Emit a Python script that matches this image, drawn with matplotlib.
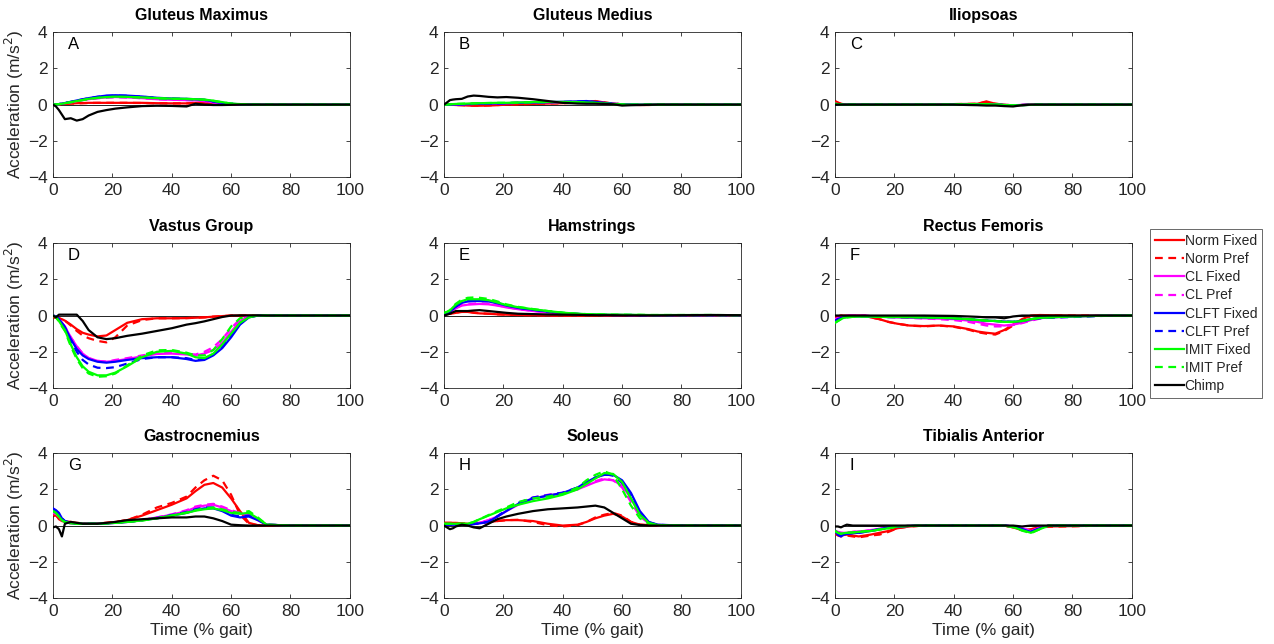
import matplotlib
matplotlib.use('Agg')
import matplotlib.pyplot as plt

plt.rcParams['font.family'] = ['Liberation Sans', 'DejaVu Sans']

# % gait sample points shared by every curve
x = [0, 1, 2, 3, 4, 6, 8, 10, 12, 15, 18, 21, 25, 30, 35, 40, 45, 48, 51, 54, 57, 60, 63, 66, 69, 72, 80, 90, 100]

labels = ['Norm Fixed', 'Norm Pref', 'CL Fixed', 'CL Pref', 'CLFT Fixed', 'CLFT Pref',
          'IMIT Fixed', 'IMIT Pref', 'Chimp']
titles = ['Gluteus Maximus', 'Gluteus Medius', 'Iliopsoas',
          'Vastus Group', 'Hamstrings', 'Rectus Femoris',
          'Gastrocnemius', 'Soleus', 'Tibialis Anterior']
letters = ['A', 'B', 'C', 'D', 'E', 'F', 'G', 'H', 'I']

# each muscle: 9 rows in legend order
glut_max = [
    [0, 0.01, 0.02, 0.03, 0.04, 0.06, 0.08, 0.09, 0.1, 0.1, 0.1, 0.1, 0.1, 0.1, 0.08, 0.07, 0.07, 0.1, 0.12, 0.05, 0.02, 0, 0, 0, 0, 0, 0, 0, 0],
    [0, 0.01, 0.02, 0.03, 0.04, 0.06, 0.07, 0.08, 0.09, 0.1, 0.1, 0.1, 0.1, 0.09, 0.08, 0.07, 0.07, 0.08, 0.1, 0.05, 0.02, 0, 0, 0, 0, 0, 0, 0, 0],
    [0, 0.01, 0.03, 0.05, 0.08, 0.14, 0.2, 0.26, 0.3, 0.36, 0.4, 0.42, 0.4, 0.36, 0.3, 0.27, 0.25, 0.24, 0.2, 0.12, 0.06, 0.03, 0.01, 0, 0, 0, 0, 0, 0],
    [0, 0.01, 0.03, 0.05, 0.08, 0.13, 0.19, 0.25, 0.3, 0.35, 0.39, 0.41, 0.4, 0.35, 0.3, 0.27, 0.25, 0.23, 0.19, 0.12, 0.06, 0.03, 0.01, 0, 0, 0, 0, 0, 0],
    [0, 0.01, 0.03, 0.06, 0.09, 0.16, 0.23, 0.3, 0.36, 0.44, 0.5, 0.52, 0.5, 0.45, 0.38, 0.34, 0.32, 0.3, 0.27, 0.18, 0.1, 0.05, 0.02, 0.01, 0, 0, 0, 0, 0],
    [0, 0.01, 0.03, 0.06, 0.09, 0.15, 0.22, 0.29, 0.35, 0.43, 0.48, 0.5, 0.49, 0.44, 0.37, 0.33, 0.31, 0.29, 0.26, 0.17, 0.1, 0.05, 0.02, 0.01, 0, 0, 0, 0, 0],
    [0, 0.01, 0.03, 0.05, 0.08, 0.14, 0.2, 0.26, 0.32, 0.38, 0.42, 0.44, 0.43, 0.4, 0.36, 0.33, 0.32, 0.3, 0.28, 0.22, 0.14, 0.06, 0.03, 0.01, 0, 0, 0, 0, 0],
    [0, 0.01, 0.03, 0.05, 0.08, 0.13, 0.19, 0.25, 0.31, 0.37, 0.41, 0.43, 0.42, 0.39, 0.35, 0.32, 0.31, 0.29, 0.27, 0.21, 0.13, 0.06, 0.03, 0.01, 0, 0, 0, 0, 0],
    [0, -0.1, -0.3, -0.55, -0.8, -0.75, -0.88, -0.8, -0.6, -0.4, -0.3, -0.22, -0.15, -0.08, -0.06, -0.07, -0.1, 0.05, 0, -0.02, -0.02, -0.01, 0, 0, 0, 0, 0, 0, 0],
]

glut_med = [
    [0, 0, 0, -0.01, -0.02, -0.03, -0.05, -0.06, -0.06, -0.05, -0.03, 0, 0.02, 0.04, 0.06, 0.08, 0.12, 0.15, 0.2, 0.12, 0.06, 0.02, 0, -0.02, -0.02, 0, 0, 0, 0],
    [0, 0, 0, -0.01, -0.02, -0.03, -0.04, -0.05, -0.05, -0.04, -0.02, 0, 0.02, 0.04, 0.06, 0.08, 0.11, 0.14, 0.18, 0.12, 0.06, 0.02, 0, -0.02, -0.01, 0, 0, 0, 0],
    [0, 0, 0, 0.01, 0.01, 0.02, 0.03, 0.04, 0.05, 0.06, 0.07, 0.08, 0.1, 0.12, 0.13, 0.14, 0.15, 0.15, 0.12, 0.08, 0.04, 0.02, 0.01, 0, 0, 0, 0, 0, 0],
    [0, 0, 0, 0.01, 0.01, 0.02, 0.03, 0.04, 0.05, 0.06, 0.07, 0.08, 0.1, 0.11, 0.12, 0.13, 0.14, 0.14, 0.11, 0.07, 0.04, 0.02, 0.01, 0, 0, 0, 0, 0, 0],
    [0, 0, 0, 0.01, 0.01, 0.02, 0.03, 0.04, 0.05, 0.06, 0.07, 0.08, 0.1, 0.12, 0.14, 0.16, 0.18, 0.2, 0.15, 0.1, 0.05, 0.02, 0.01, 0, 0, 0, 0, 0, 0],
    [0, 0, 0, 0.01, 0.01, 0.02, 0.03, 0.04, 0.05, 0.06, 0.07, 0.08, 0.1, 0.12, 0.13, 0.15, 0.17, 0.19, 0.14, 0.09, 0.05, 0.02, 0.01, 0, 0, 0, 0, 0, 0],
    [0, 0.01, 0.02, 0.03, 0.04, 0.05, 0.06, 0.07, 0.08, 0.09, 0.1, 0.1, 0.12, 0.14, 0.15, 0.15, 0.14, 0.12, 0.1, 0.06, 0.03, 0.01, 0, 0, 0, 0, 0, 0, 0],
    [0, 0.01, 0.02, 0.03, 0.04, 0.05, 0.06, 0.07, 0.08, 0.09, 0.1, 0.1, 0.11, 0.13, 0.14, 0.14, 0.13, 0.11, 0.09, 0.06, 0.03, 0.01, 0, 0, 0, 0, 0, 0, 0],
    [0, 0.12, 0.25, 0.28, 0.3, 0.32, 0.45, 0.5, 0.48, 0.43, 0.4, 0.42, 0.38, 0.3, 0.2, 0.1, 0.06, 0.05, 0.05, 0.04, 0.02, -0.05, -0.03, -0.02, -0.01, 0, 0, 0, 0],
]

iliopsoas = [
    [0.2, 0.12, 0.05, 0.02, 0, 0, 0, 0, 0, 0, 0, 0, 0, 0, 0.02, 0.03, 0.04, 0.05, 0.18, 0.05, 0, -0.05, -0.02, 0, 0, 0, 0, 0, 0],
    [0.18, 0.1, 0.04, 0.02, 0, 0, 0, 0, 0, 0, 0, 0, 0, 0, 0.02, 0.03, 0.04, 0.05, 0.15, 0.05, 0, -0.04, -0.02, 0, 0, 0, 0, 0, 0],
    [0.05, 0.03, 0.01, 0, 0, 0, 0, 0, 0, 0, 0, 0, 0, 0, 0, 0.01, 0.02, 0.02, 0.03, 0.01, -0.02, -0.03, -0.02, -0.01, 0, 0, 0, 0, 0],
    [0.05, 0.03, 0.01, 0, 0, 0, 0, 0, 0, 0, 0, 0, 0, 0, 0, 0.01, 0.02, 0.02, 0.03, 0.01, -0.02, -0.03, -0.02, -0.01, 0, 0, 0, 0, 0],
    [0.04, 0.02, 0.01, 0, 0, 0, 0, 0, 0, 0, 0, 0, 0, 0, 0, 0.01, 0.01, 0.02, 0.02, 0, -0.02, -0.03, -0.02, -0.01, 0, 0, 0, 0, 0],
    [0.04, 0.02, 0.01, 0, 0, 0, 0, 0, 0, 0, 0, 0, 0, 0, 0, 0.01, 0.01, 0.02, 0.02, 0, -0.02, -0.03, -0.02, -0.01, 0, 0, 0, 0, 0],
    [0.05, 0.03, 0.01, 0, 0, 0, 0, 0, 0, 0, 0, 0, 0, 0, 0, 0.01, 0.02, 0.02, 0.03, 0.01, -0.02, -0.04, -0.03, -0.01, 0, 0, 0, 0, 0],
    [0.05, 0.03, 0.01, 0, 0, 0, 0, 0, 0, 0, 0, 0, 0, 0, 0, 0.01, 0.02, 0.02, 0.03, 0.01, -0.02, -0.04, -0.03, -0.01, 0, 0, 0, 0, 0],
    [0, 0, 0, 0, 0, 0, 0, 0, 0, 0, 0, 0, 0, 0, 0, 0, -0.02, -0.03, -0.05, -0.05, -0.08, -0.1, -0.03, 0, 0, 0, 0, 0, 0],
]

vastus = [
    [-0.1, -0.12, -0.15, -0.2, -0.28, -0.5, -0.75, -0.95, -1.05, -1.15, -1.1, -0.8, -0.4, -0.2, -0.15, -0.15, -0.14, -0.12, -0.1, -0.06, -0.03, 0, 0, 0, 0, 0, 0, 0, 0],
    [-0.1, -0.12, -0.15, -0.2, -0.28, -0.55, -0.85, -1.1, -1.25, -1.4, -1.48, -1.2, -0.55, -0.25, -0.15, -0.15, -0.14, -0.12, -0.1, -0.06, -0.03, 0, 0, 0, 0, 0, 0, 0, 0],
    [0, -0.05, -0.2, -0.4, -0.6, -1.2, -1.7, -2.1, -2.35, -2.5, -2.55, -2.5, -2.4, -2.25, -2.12, -2.1, -2.15, -2.2, -2.1, -1.9, -1.5, -0.9, -0.3, -0.05, 0, 0, 0, 0, 0],
    [0, -0.05, -0.2, -0.4, -0.6, -1.2, -1.7, -2.1, -2.35, -2.5, -2.55, -2.45, -2.35, -2.2, -2.08, -2.05, -2.1, -2.15, -2.0, -1.75, -1.3, -0.7, -0.2, -0.03, 0, 0, 0, 0, 0],
    [0, -0.05, -0.2, -0.4, -0.65, -1.3, -1.85, -2.2, -2.4, -2.55, -2.6, -2.55, -2.45, -2.35, -2.3, -2.3, -2.4, -2.5, -2.45, -2.2, -1.8, -1.2, -0.5, -0.1, 0, 0, 0, 0, 0],
    [0, -0.05, -0.2, -0.4, -0.65, -1.4, -2.0, -2.45, -2.7, -2.88, -2.9, -2.85, -2.65, -2.4, -2.3, -2.3, -2.35, -2.45, -2.4, -2.15, -1.75, -1.1, -0.45, -0.08, 0, 0, 0, 0, 0],
    [0, -0.1, -0.3, -0.55, -0.8, -1.6, -2.3, -2.8, -3.1, -3.3, -3.3, -3.15, -2.8, -2.3, -2.0, -1.95, -2.1, -2.3, -2.35, -2.1, -1.6, -1.0, -0.4, -0.1, 0, 0, 0, 0, 0],
    [0, -0.1, -0.32, -0.6, -0.85, -1.7, -2.4, -2.9, -3.2, -3.38, -3.35, -3.2, -2.75, -2.2, -1.92, -1.9, -2.05, -2.2, -2.2, -1.9, -1.3, -0.6, -0.15, -0.03, 0, 0, 0, 0, 0],
    [0, -0.1, 0.05, 0.05, 0.05, 0.05, 0.05, -0.3, -0.8, -1.2, -1.3, -1.25, -1.12, -1.0, -0.85, -0.7, -0.5, -0.42, -0.32, -0.2, -0.08, 0, 0.01, 0.01, 0.01, 0, 0, 0, 0],
]

hamstrings = [
    [0.05, 0.08, 0.1, 0.12, 0.15, 0.2, 0.2, 0.15, 0.12, 0.1, 0.07, 0.05, 0.03, 0.02, 0.01, 0, 0, 0, 0, 0, 0, 0, 0, 0, 0, 0, 0, 0, 0],
    [0.05, 0.08, 0.1, 0.13, 0.16, 0.22, 0.22, 0.17, 0.13, 0.1, 0.07, 0.05, 0.03, 0.02, 0.01, 0, 0, 0, 0, 0, 0, 0, 0, 0, 0, 0, 0, 0, 0],
    [0.1, 0.15, 0.2, 0.3, 0.4, 0.55, 0.6, 0.62, 0.64, 0.62, 0.55, 0.45, 0.35, 0.25, 0.17, 0.1, 0.07, 0.05, 0.04, 0.03, 0.03, 0.03, 0.02, 0.02, 0.02, 0.02, 0.02, 0.02, 0.02],
    [0.1, 0.15, 0.2, 0.3, 0.42, 0.58, 0.64, 0.66, 0.68, 0.65, 0.57, 0.47, 0.36, 0.26, 0.18, 0.11, 0.07, 0.05, 0.04, 0.03, 0.03, 0.03, 0.02, 0.02, 0.02, 0.02, 0.02, 0.02, 0.02],
    [0.1, 0.15, 0.22, 0.35, 0.5, 0.7, 0.78, 0.8, 0.8, 0.78, 0.68, 0.55, 0.42, 0.32, 0.22, 0.14, 0.09, 0.07, 0.05, 0.04, 0.03, 0.03, 0.03, 0.02, 0.02, 0.02, 0.02, 0.02, 0.02],
    [0.1, 0.15, 0.22, 0.35, 0.5, 0.72, 0.8, 0.82, 0.82, 0.8, 0.7, 0.57, 0.43, 0.32, 0.22, 0.14, 0.09, 0.07, 0.05, 0.04, 0.03, 0.03, 0.03, 0.02, 0.02, 0.02, 0.02, 0.02, 0.02],
    [0.15, 0.2, 0.28, 0.45, 0.6, 0.8, 0.9, 0.9, 0.9, 0.85, 0.72, 0.58, 0.46, 0.35, 0.25, 0.16, 0.1, 0.08, 0.07, 0.06, 0.05, 0.05, 0.04, 0.04, 0.03, 0.03, 0.03, 0.03, 0.02],
    [0.15, 0.2, 0.3, 0.5, 0.65, 0.88, 0.98, 1.0, 0.98, 0.92, 0.78, 0.62, 0.48, 0.36, 0.25, 0.16, 0.1, 0.08, 0.07, 0.06, 0.05, 0.05, 0.04, 0.04, 0.03, 0.03, 0.03, 0.03, 0.02],
    [0, 0.05, 0.1, 0.18, 0.25, 0.25, 0.25, 0.28, 0.3, 0.25, 0.2, 0.15, 0.1, 0.08, 0.06, 0.05, 0.04, 0.03, 0.02, 0.02, 0.02, 0.01, 0.01, 0.01, 0.01, 0.01, 0.02, 0.03, 0.02],
]

rectus_fem = [
    [-0.1, -0.05, 0, 0, 0, 0, 0, 0, -0.1, -0.2, -0.35, -0.45, -0.55, -0.58, -0.55, -0.6, -0.75, -0.88, -0.95, -1.0, -0.8, -0.5, -0.2, 0, 0.03, 0.02, 0, 0, 0],
    [-0.1, -0.05, 0, 0, 0, 0, 0, 0, -0.1, -0.2, -0.35, -0.45, -0.55, -0.6, -0.55, -0.62, -0.78, -0.92, -1.0, -1.05, -0.85, -0.55, -0.25, -0.02, 0.02, 0.02, 0, 0, 0],
    [-0.2, -0.15, -0.1, -0.05, 0, 0, 0, 0, -0.03, -0.06, -0.08, -0.1, -0.12, -0.15, -0.17, -0.2, -0.28, -0.35, -0.45, -0.5, -0.55, -0.5, -0.4, -0.25, -0.15, -0.1, -0.05, 0, 0],
    [-0.2, -0.15, -0.1, -0.05, 0, 0, 0, 0, -0.03, -0.06, -0.08, -0.1, -0.13, -0.16, -0.2, -0.25, -0.35, -0.45, -0.55, -0.6, -0.6, -0.52, -0.42, -0.28, -0.17, -0.12, -0.06, 0, 0],
    [-0.3, -0.2, -0.15, -0.1, -0.08, -0.05, -0.05, -0.05, -0.06, -0.07, -0.08, -0.08, -0.09, -0.1, -0.12, -0.15, -0.2, -0.24, -0.28, -0.3, -0.33, -0.35, -0.3, -0.2, -0.13, -0.1, -0.05, -0.01, 0],
    [-0.3, -0.2, -0.15, -0.1, -0.08, -0.05, -0.05, -0.05, -0.06, -0.07, -0.08, -0.08, -0.09, -0.1, -0.12, -0.15, -0.2, -0.24, -0.28, -0.3, -0.33, -0.35, -0.3, -0.22, -0.15, -0.12, -0.08, -0.02, 0],
    [-0.4, -0.3, -0.2, -0.12, -0.1, -0.07, -0.06, -0.05, -0.06, -0.07, -0.08, -0.08, -0.09, -0.1, -0.12, -0.15, -0.2, -0.24, -0.28, -0.3, -0.35, -0.35, -0.3, -0.2, -0.13, -0.1, -0.05, -0.01, 0],
    [-0.4, -0.3, -0.2, -0.12, -0.1, -0.07, -0.06, -0.05, -0.06, -0.07, -0.08, -0.08, -0.09, -0.1, -0.12, -0.15, -0.2, -0.24, -0.28, -0.3, -0.35, -0.35, -0.3, -0.2, -0.13, -0.1, -0.05, -0.01, 0],
    [0, 0, 0, 0, 0, 0, 0, 0, 0, 0, 0, 0, 0, 0, -0.01, -0.02, -0.05, -0.07, -0.1, -0.1, -0.15, -0.05, 0, 0, 0, 0, 0, 0, 0],
]

gastroc = [
    [0.5, 0.6, 0.35, 0.25, 0.2, 0.2, 0.15, 0.12, 0.12, 0.12, 0.15, 0.2, 0.3, 0.55, 0.85, 1.15, 1.5, 1.9, 2.25, 2.35, 2.1, 1.5, 0.8, 0.15, 0.02, 0, 0, 0, 0],
    [0.6, 0.55, 0.4, 0.28, 0.22, 0.2, 0.15, 0.12, 0.12, 0.12, 0.15, 0.2, 0.3, 0.6, 1.0, 1.25, 1.6, 2.1, 2.5, 2.75, 2.5, 1.7, 0.6, 0.1, 0.02, 0, 0, 0, 0],
    [0.7, 0.65, 0.5, 0.3, 0.2, 0.12, 0.1, 0.1, 0.1, 0.1, 0.12, 0.15, 0.2, 0.3, 0.45, 0.6, 0.8, 1.0, 1.1, 1.15, 1.0, 0.8, 0.65, 0.6, 0.3, 0.05, 0, 0, 0],
    [0.7, 0.65, 0.5, 0.3, 0.2, 0.12, 0.1, 0.1, 0.1, 0.1, 0.12, 0.15, 0.2, 0.3, 0.45, 0.62, 0.85, 1.05, 1.15, 1.2, 1.05, 0.85, 0.7, 0.65, 0.35, 0.05, 0, 0, 0],
    [0.95, 0.85, 0.7, 0.4, 0.25, 0.15, 0.1, 0.1, 0.1, 0.1, 0.12, 0.15, 0.2, 0.3, 0.4, 0.55, 0.7, 0.85, 0.95, 0.95, 0.8, 0.55, 0.45, 0.5, 0.3, 0.05, 0, 0, 0],
    [0.9, 0.8, 0.65, 0.4, 0.25, 0.15, 0.1, 0.1, 0.1, 0.1, 0.12, 0.15, 0.2, 0.3, 0.42, 0.58, 0.75, 0.9, 1.0, 1.0, 0.85, 0.6, 0.5, 0.55, 0.35, 0.05, 0, 0, 0],
    [0.8, 0.7, 0.5, 0.3, 0.2, 0.12, 0.1, 0.1, 0.1, 0.1, 0.12, 0.15, 0.2, 0.28, 0.4, 0.55, 0.7, 0.82, 0.9, 0.95, 0.85, 0.7, 0.65, 0.7, 0.4, 0.05, 0, 0, 0],
    [0.8, 0.7, 0.5, 0.3, 0.2, 0.12, 0.1, 0.1, 0.1, 0.1, 0.12, 0.15, 0.2, 0.28, 0.4, 0.55, 0.72, 0.85, 0.95, 1.0, 0.9, 0.75, 0.7, 0.8, 0.45, 0.05, 0, 0, 0],
    [-0.1, -0.05, -0.2, -0.6, 0.1, 0.2, 0.15, 0.1, 0.1, 0.1, 0.15, 0.2, 0.3, 0.35, 0.4, 0.45, 0.45, 0.5, 0.5, 0.4, 0.25, 0.05, 0.02, 0, 0, 0, 0, 0, 0],
]

soleus = [
    [0.15, 0.15, 0.15, 0.15, 0.15, 0.12, 0.1, 0.12, 0.15, 0.2, 0.25, 0.3, 0.3, 0.25, 0.1, 0, 0.05, 0.2, 0.4, 0.55, 0.65, 0.5, 0.2, 0.05, 0.02, 0.02, 0, 0, 0],
    [0.15, 0.15, 0.15, 0.15, 0.15, 0.12, 0.1, 0.12, 0.15, 0.2, 0.25, 0.3, 0.32, 0.2, 0.02, -0.05, 0.02, 0.2, 0.45, 0.6, 0.7, 0.55, 0.2, 0.05, 0.02, 0.02, 0, 0, 0],
    [0.05, 0.05, 0.05, 0.05, 0.05, 0.05, 0.05, 0.1, 0.15, 0.3, 0.5, 0.8, 1.15, 1.5, 1.65, 1.8, 2.0, 2.2, 2.4, 2.55, 2.5, 2.2, 1.5, 0.6, 0.15, 0.03, 0, 0, 0],
    [0.05, 0.05, 0.05, 0.05, 0.05, 0.05, 0.05, 0.1, 0.15, 0.3, 0.5, 0.85, 1.2, 1.55, 1.7, 1.8, 2.0, 2.25, 2.45, 2.6, 2.5, 2.1, 1.3, 0.5, 0.12, 0.03, 0, 0, 0],
    [0.05, 0.05, 0.05, 0.05, 0.05, 0.05, 0.05, 0.08, 0.12, 0.2, 0.5, 0.8, 1.2, 1.5, 1.65, 1.8, 2.1, 2.4, 2.65, 2.8, 2.8, 2.5, 1.8, 0.8, 0.2, 0.05, 0, 0, 0],
    [0.05, 0.05, 0.05, 0.05, 0.05, 0.05, 0.05, 0.08, 0.12, 0.22, 0.52, 0.85, 1.25, 1.55, 1.68, 1.82, 2.1, 2.4, 2.65, 2.85, 2.75, 2.35, 1.6, 0.7, 0.18, 0.04, 0, 0, 0],
    [0.1, 0.1, 0.1, 0.1, 0.1, 0.1, 0.1, 0.2, 0.35, 0.55, 0.75, 0.95, 1.15, 1.35, 1.5, 1.7, 2.0, 2.3, 2.6, 2.9, 2.85, 2.4, 1.5, 0.6, 0.15, 0.03, 0, 0, 0],
    [0.1, 0.1, 0.1, 0.1, 0.1, 0.1, 0.1, 0.2, 0.35, 0.58, 0.8, 1.0, 1.3, 1.5, 1.6, 1.75, 2.1, 2.5, 2.8, 3.0, 2.8, 2.0, 1.1, 0.4, 0.1, 0.02, 0, 0, 0],
    [0, -0.1, -0.2, -0.15, -0.05, 0.05, 0, -0.1, -0.15, 0.1, 0.35, 0.5, 0.65, 0.8, 0.9, 0.95, 1.0, 1.05, 1.1, 1.0, 0.7, 0.4, 0.1, 0.03, 0, 0, 0, 0, 0],
]

tib_ant = [
    [-0.4, -0.5, -0.55, -0.52, -0.5, -0.55, -0.6, -0.55, -0.5, -0.4, -0.3, -0.15, -0.05, 0, 0, 0, 0, 0, 0, 0, 0, -0.1, -0.25, -0.2, -0.1, -0.05, -0.03, 0, 0],
    [-0.45, -0.55, -0.6, -0.58, -0.55, -0.6, -0.65, -0.6, -0.55, -0.5, -0.35, -0.15, -0.05, 0, 0, 0, 0, 0, 0, 0, 0, -0.1, -0.25, -0.2, -0.12, -0.06, -0.04, 0, 0],
    [-0.3, -0.35, -0.4, -0.4, -0.4, -0.35, -0.32, -0.3, -0.25, -0.18, -0.1, -0.05, -0.02, 0, 0, 0, 0, 0, 0, 0, 0, -0.05, -0.15, -0.3, -0.12, 0, 0, 0, 0],
    [-0.3, -0.35, -0.4, -0.4, -0.4, -0.35, -0.32, -0.3, -0.25, -0.18, -0.1, -0.05, -0.02, 0, 0, 0, 0, 0, 0, 0, 0, -0.05, -0.15, -0.3, -0.12, 0, 0, 0, 0],
    [-0.3, -0.5, -0.6, -0.5, -0.45, -0.42, -0.4, -0.35, -0.3, -0.2, -0.1, -0.05, -0.02, 0, 0, 0, 0, 0, 0, 0, 0, -0.05, -0.2, -0.35, -0.15, 0, 0, 0, 0],
    [-0.3, -0.5, -0.6, -0.5, -0.45, -0.42, -0.4, -0.35, -0.3, -0.2, -0.1, -0.05, -0.02, 0, 0, 0, 0, 0, 0, 0, 0, -0.05, -0.2, -0.35, -0.15, 0, 0, 0, 0],
    [-0.3, -0.4, -0.45, -0.42, -0.4, -0.38, -0.35, -0.32, -0.3, -0.22, -0.15, -0.05, -0.02, 0, 0, 0, 0, 0, 0, 0, 0, -0.08, -0.25, -0.4, -0.2, 0, 0, 0, 0],
    [-0.3, -0.4, -0.45, -0.42, -0.4, -0.38, -0.35, -0.32, -0.3, -0.22, -0.15, -0.05, -0.02, 0, 0, 0, 0, 0, 0, 0, 0, -0.08, -0.28, -0.42, -0.2, 0, 0, 0, 0],
    [-0.05, -0.05, -0.1, -0.02, 0.05, 0, 0, 0, 0, 0, 0, 0, 0, 0, 0, 0, 0, 0, 0, 0, 0, 0, -0.05, 0, 0, 0, 0, 0, 0],
]

muscles = [glut_max, glut_med, iliopsoas, vastus, hamstrings, rectus_fem, gastroc, soleus, tib_ant]

colors = ['#ff0000', '#ff0000', '#ff00ff', '#ff00ff', '#0000ff', '#0000ff', '#00ff00', '#00ff00', '#000000']
styles = ['-', '--', '-', '--', '-', '--', '-', '--', '-']

fig = plt.figure(figsize=(12.74, 6.44), dpi=100)
lefts = [0.0416, 0.3485, 0.6554]
bottoms = [0.725, 0.3975, 0.0714]
w, h = 0.233, 0.225
grey = '#262626'

handles = []
for i, data in enumerate(muscles):
    r, c = divmod(i, 3)
    ax = fig.add_axes([lefts[c], bottoms[r], w, h])
    ax.axhline(0, color='k', lw=0.6, zorder=1)
    for j, y in enumerate(data):
        ln, = ax.plot(x, y, color=colors[j], ls=styles[j], lw=1.6, label=labels[j],
                      dashes=(3.5, 2.5) if styles[j] == '--' else (None, None), zorder=2 + j)
        if i == 0:
            handles.append(ln)
    ax.set_xlim(0, 100)
    ax.set_ylim(-4, 4)
    ax.set_xticks([0, 20, 40, 60, 80, 100])
    ax.set_yticks([-4, -2, 0, 2, 4])
    ax.tick_params(direction='in', top=True, right=True, length=3, width=0.6,
                   labelsize=12.5, colors=grey, labelcolor=grey, pad=4)
    for s in ax.spines.values():
        s.set_color(grey)
        s.set_linewidth(0.6)
    ax.set_title(titles[i], fontsize=11.5, fontweight='bold', pad=9)
    ax.text(5, 3.3, letters[i], fontsize=12, color='k', va='center')
    if c == 0:
        ax.set_ylabel('Acceleration (m/s$^2$)', fontsize=12.5, color=grey, labelpad=1)
    if r == 2:
        ax.set_xlabel('Time (% gait)', fontsize=12.5, color=grey, labelpad=3)

leg = fig.legend(handles=handles, loc='upper left', bbox_to_anchor=(1150 / 1274, 1 - 229 / 644),
                 fontsize=10, frameon=True, fancybox=False, edgecolor=grey,
                 handlelength=2.1, handletextpad=0.05, labelspacing=0.3, borderpad=0.35,
                 borderaxespad=0)
leg.get_frame().set_linewidth(0.6)
for t in leg.get_texts():
    t.set_color(grey)

fig.savefig('out.png', dpi=100)
